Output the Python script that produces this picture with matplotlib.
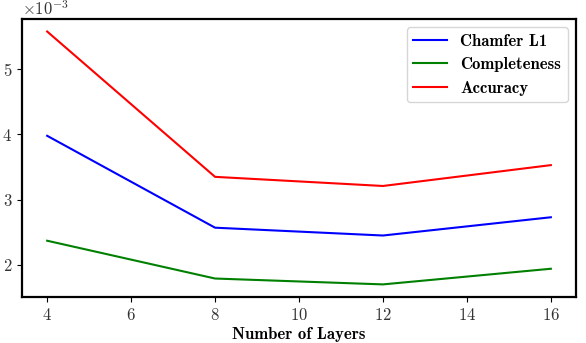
import matplotlib
matplotlib.use("Agg")
import matplotlib.pyplot as plt

plt.rcParams['font.family'] = 'serif'
plt.rcParams['font.serif'] = ['cmr10']
plt.rcParams['mathtext.fontset'] = 'cm'
plt.rcParams['axes.formatter.use_mathtext'] = True
plt.rcParams['axes.unicode_minus'] = False

layers = [4, 8, 12, 16]
chamfer = [3.98e-3, 2.57e-3, 2.45e-3, 2.73e-3]
completeness = [2.37e-3, 1.79e-3, 1.70e-3, 1.94e-3]
accuracy = [5.58e-3, 3.35e-3, 3.21e-3, 3.53e-3]
yticks = [2e-3, 3e-3, 4e-3, 5e-3]

fig = plt.figure(figsize=(5.86, 3.43), dpi=100)
ax = fig.add_axes([0.0375, 0.134, 0.9455, 0.811])
ax.plot(layers, chamfer, color='blue', lw=1.5, label='Chamfer L1')
ax.plot(layers, completeness, color='green', lw=1.5, label='Completeness')
ax.plot(layers, accuracy, color='red', lw=1.5, label='Accuracy')

for s in ax.spines.values():
    s.set_linewidth(1.6)
ax.tick_params(labelsize=12, labelcolor='#333333')
ax.set_xticks([4, 6, 8, 10, 12, 14, 16])
ax.set_yticks(yticks)
ax.ticklabel_format(axis='y', style='sci', scilimits=(0, 0))
ax.set_xlabel('Number of Layers', fontsize=12, family='cmb10', labelpad=3)
ax.yaxis.get_offset_text().set_fontsize(12)
ax.legend(loc='upper right', prop={'family': 'cmb10', 'size': 12})
fig.savefig('out.png', dpi=100)
